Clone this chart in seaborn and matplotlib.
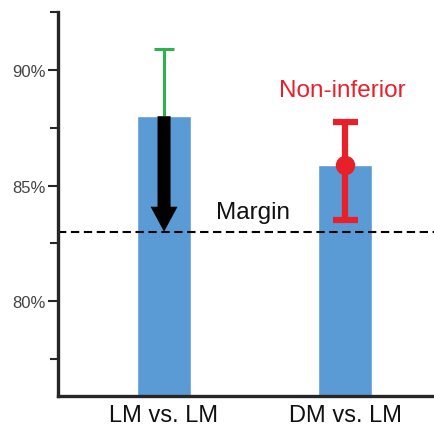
import numpy as np
import pandas as pd
import matplotlib
matplotlib.use("Agg")
import matplotlib.pyplot as plt
from matplotlib.patches import FancyArrowPatch
from matplotlib.ticker import FixedLocator, FuncFormatter
import seaborn as sns

sns.set_style("ticks")
plt.rcParams['font.family'] = ['Liberation Sans', 'DejaVu Sans']

# data
groups = ["LM vs. LM", "DM vs. LM"]
rates = [88.0, 85.9]
err_low = [88.0, 83.5]     # lower end of each interval
err_high = [90.9, 87.75]   # upper end
margin = 83.0
bar_blue = "#5b9bd5"

df = pd.DataFrame({"group": groups, "rate": rates})

fig = plt.figure(figsize=(4.35, 4.27), dpi=100)
ax = fig.add_axes([58 / 435, 30 / 427, 1 - 58 / 435, 384 / 427])

sns.barplot(data=df, x="group", y="rate", color=bar_blue, saturation=1,
            width=0.3, ax=ax)

# green upper whisker only (no lower cap)
ax.vlines(0, rates[0], err_high[0], color="#2db34a", lw=2.2, zorder=3)
ax.hlines(err_high[0], -0.053, 0.053, color="#2db34a", lw=2.2, zorder=3)

# red CI with point for the DM comparison
ax.errorbar(1, rates[1], yerr=[[rates[1] - err_low[1]], [err_high[1] - rates[1]]],
            fmt="o", color="#e8202a", ecolor="#e8202a", markersize=13,
            elinewidth=4.5, capsize=9, capthick=4.5, zorder=4)

# margin line
ax.axhline(margin, color="black", lw=1.5, ls=(0, (4, 2.2)), zorder=2)

# black arrow from LM estimate down to the margin
arr = FancyArrowPatch((0, rates[0]), (0, margin),
                      arrowstyle="simple,head_width=0.97,head_length=0.9,tail_width=0.47",
                      mutation_scale=20, color="black", lw=0, shrinkA=0, shrinkB=0,
                      zorder=5)
ax.add_patch(arr)

ax.text(0.489, 83.6, "Margin", ha="center", va="baseline", fontsize=17.5, color="#111111")
ax.text(0.986, 88.87, "Non-inferior", ha="center", va="baseline", fontsize=17.5,
        color="#e8202a")

ax.set_xlim(-0.586, 1.497)
ax.set_ylim(75.89, 92.51)
ax.yaxis.set_major_locator(FixedLocator([80, 85, 90]))
ax.yaxis.set_minor_locator(FixedLocator([77.5, 82.5, 87.5, 92.5]))
ax.yaxis.set_major_formatter(FuncFormatter(lambda v, p: f"{v:.0f}%"))
ax.tick_params(axis="y", which="major", length=7.2, width=1.5, pad=1.5,
               labelsize=12, labelcolor="#444444")
ax.tick_params(axis="y", which="minor", length=5.8, width=1.5)
ax.tick_params(axis="x", length=0, pad=6, labelsize=17, labelcolor="#111111")
ax.set_xlabel("")
ax.set_ylabel("")

for s in ["top", "right"]:
    ax.spines[s].set_visible(False)
for s in ["left", "bottom"]:
    ax.spines[s].set_linewidth(2.4)

fig.savefig("out.png", dpi=100)
